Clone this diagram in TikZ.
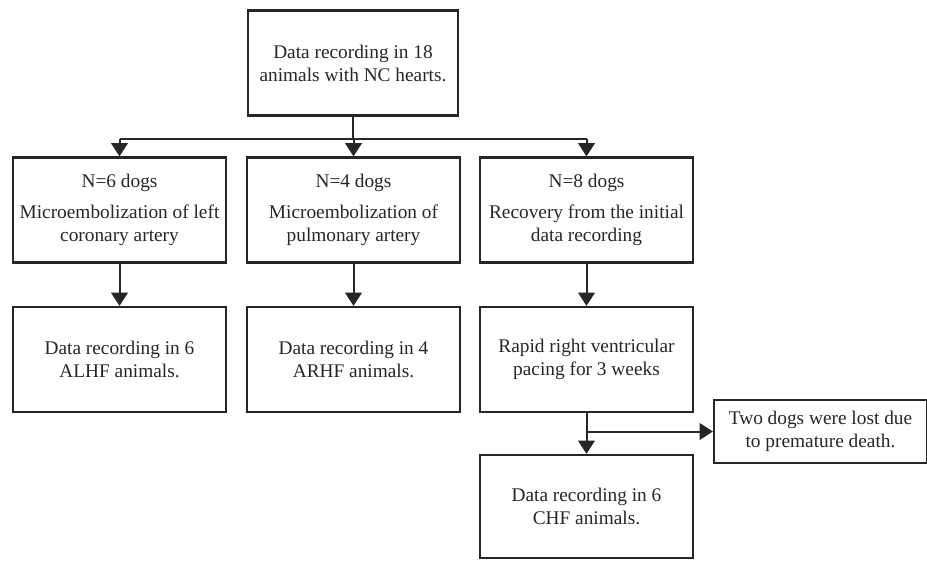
\documentclass[tikz,border=0pt]{standalone}
\usepackage{fontspec}
\setmainfont{Liberation Serif}
\usetikzlibrary{arrows.meta}
\definecolor{inkgray}{RGB}{38,38,38}

\begin{document}
\begin{tikzpicture}[x=0.6pt,y=-0.6pt,
    stagebox/.style={draw=inkgray,line width=1.3pt,align=center,inner sep=0pt,
      minimum width=213*0.6pt,minimum height=105*0.6pt,text=inkgray,
      font=\fontsize{11.6}{13.8}\selectfont},
    flow/.style={draw=inkgray,line width=1.2pt,
      -{Triangle[length=8pt,width=10pt]}},
    link/.style={draw=inkgray,line width=1.2pt}]
  \useasboundingbox (0,0) rectangle (927,560);

  \node[stagebox,minimum width=210*0.6pt] (nc) at (353,63)
    {Data recording in 18\\animals with NC hearts.};

  \node[stagebox] (lca) at (119.5,210)
    {N=6 dogs\\[5pt]Microembolization of left\\coronary artery};
  \node[stagebox] (pa) at (353.5,210)
    {N=4 dogs\\[5pt]Microembolization of\\pulmonary artery};
  \node[stagebox] (rec) at (586.5,210)
    {N=8 dogs\\[5pt]Recovery from the initial\\data recording};

  \node[stagebox] (alhf) at (119.5,359.5)
    {Data recording in 6\\ALHF animals.};
  \node[stagebox] (arhf) at (353.5,359.5)
    {Data recording in 4\\ARHF animals.};
  \node[stagebox] (pace) at (586.5,359.5)
    {Rapid right ventricular\\pacing for 3 weeks};

  \node[stagebox,minimum height=63*0.6pt] (lost) at (820.5,431.5)
    {Two dogs were lost due\\to premature death.};
  \node[stagebox,minimum height=103*0.6pt] (chf) at (586.5,506.5)
    {Data recording in 6\\CHF animals.};

  \coordinate (bus) at (353,139);
  \draw[link] (nc.south) -- (bus);
  \draw[link] (lca.north |- bus) -- (rec.north |- bus);
  \draw[flow] (lca.north |- bus) -- (lca.north);
  \draw[flow] (pa.north |- bus) -- (pa.north);
  \draw[flow] (rec.north |- bus) -- (rec.north);

  \draw[flow] (lca) -- (alhf);
  \draw[flow] (pa) -- (arhf);
  \draw[flow] (rec) -- (pace);

  \coordinate (split) at (pace.south |- lost.west);
  \draw[flow] (pace) -- (chf);
  \draw[flow] (split) -- (lost.west);
\end{tikzpicture}
\end{document}
